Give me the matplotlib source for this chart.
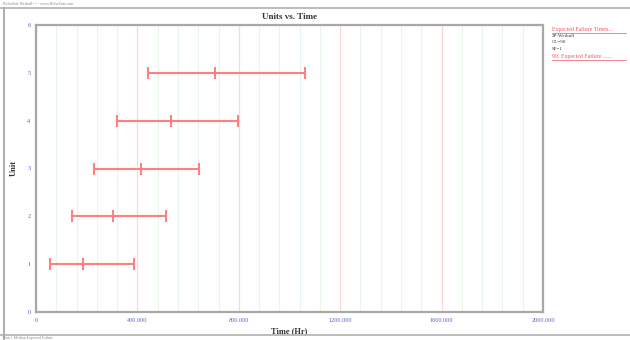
import matplotlib
matplotlib.use("Agg")
import matplotlib.pyplot as plt
from matplotlib.lines import Line2D
from matplotlib.ticker import MultipleLocator, FuncFormatter

# expected failure times per unit (lower, median, upper), hours
units = [1, 2, 3, 4, 5]
lower = [54, 141, 227, 321, 443]
median = [187, 303, 414, 532, 707]
upper = [386, 512, 644, 796, 1061]

legend_lines = ["Expected Failure Times...", "2P-Weibull", "CL=90", "SF=1", "90, Expected Failure ......"]
legend_colors = ["#ee5566", "#333333", "#333333", "#333333", "#ee5566"]

plt.rcParams['font.family'] = ['Liberation Serif', 'DejaVu Serif']

fig = plt.figure(figsize=(6.3, 3.4), dpi=100)
fig.patch.set_facecolor('white')
ax = fig.add_axes([36 / 630, 1 - 312 / 340, (543 - 36) / 630, (312 - 25) / 340])

bar_color = '#ff8080'
xerr = [[m - l for m, l in zip(median, lower)], [u - m for m, u in zip(median, upper)]]
ax.errorbar(median, units, xerr=xerr, fmt='none', ecolor=bar_color, elinewidth=1.5,
            capsize=4.5, capthick=1.5, zorder=3)
ax.plot(median, units, linestyle='none', marker='|', markersize=9, markeredgewidth=1.5,
        color=bar_color, zorder=3)

ax.set_xlim(0, 2000)
ax.set_ylim(0, 6)
ax.xaxis.set_major_locator(MultipleLocator(400))
ax.xaxis.set_minor_locator(MultipleLocator(80))
ax.yaxis.set_major_locator(MultipleLocator(1))
ax.xaxis.set_major_formatter(FuncFormatter(lambda v, p: '0' if v == 0 else f'{v:.3f}'))

ax.grid(True, which='major', axis='x', color='#ffd6d6', linewidth=0.9, zorder=0)
ax.grid(True, which='minor', axis='x', color='#e8f6e8', linewidth=0.8, zorder=0)
ax.set_axisbelow(True)

tick_blue = '#5560c0'
ax.tick_params(axis='both', which='both', length=0, labelsize=4.5, labelcolor=tick_blue, pad=4)
for s in ax.spines.values():
    s.set_color('#a8a8a8')
    s.set_linewidth(1.6)

ax.set_title('Units vs. Time', fontsize=6.5, fontweight='bold', color='#333333', pad=4)
ax.set_xlabel('Time (Hr)', fontsize=6, fontweight='bold', color='#333333', labelpad=3)
ax.set_ylabel('Unit', fontsize=6, fontweight='bold', color='#333333', labelpad=7)

# legend text block on the right
y0 = 1 - 30 / 340
for i, (txt, c) in enumerate(zip(legend_lines, legend_colors)):
    yy = y0 - i * (6.2 / 340) - (2 / 340 if i == 4 else 0)
    fig.text(552 / 630, yy, txt, fontsize=4.2 if c != '#333333' else 3.6, color=c,
             ha='left', va='center')
    if c != '#333333':
        fig.add_artist(Line2D([552 / 630, 626 / 630], [yy - 3 / 340, yy - 3 / 340],
                              color=c, linewidth=0.5, transform=fig.transFigure))

# window frame
frame_gray = '#b0b0b0'
fig.add_artist(Line2D([4 / 630, 4 / 630], [0, 1 - 8 / 340], color=frame_gray, linewidth=1.5,
                      transform=fig.transFigure))
fig.add_artist(Line2D([0, 1], [1 - 8 / 340, 1 - 8 / 340], color=frame_gray, linewidth=1.2,
                      transform=fig.transFigure))
fig.add_artist(Line2D([0, 1], [5 / 340, 5 / 340], color=frame_gray, linewidth=1.2,
                      transform=fig.transFigure))
fig.text(3 / 630, 1 - 4 / 340, 'ReliaSoft Weibull++ - www.ReliaSoft.com', fontsize=3,
         color='#888888', ha='left', va='center')
fig.text(3 / 630, 2 / 340, 'Unit 1 Median Expected Failure', fontsize=2.8, color='#888888',
         ha='left', va='center')

fig.savefig('out.png', dpi=100)
